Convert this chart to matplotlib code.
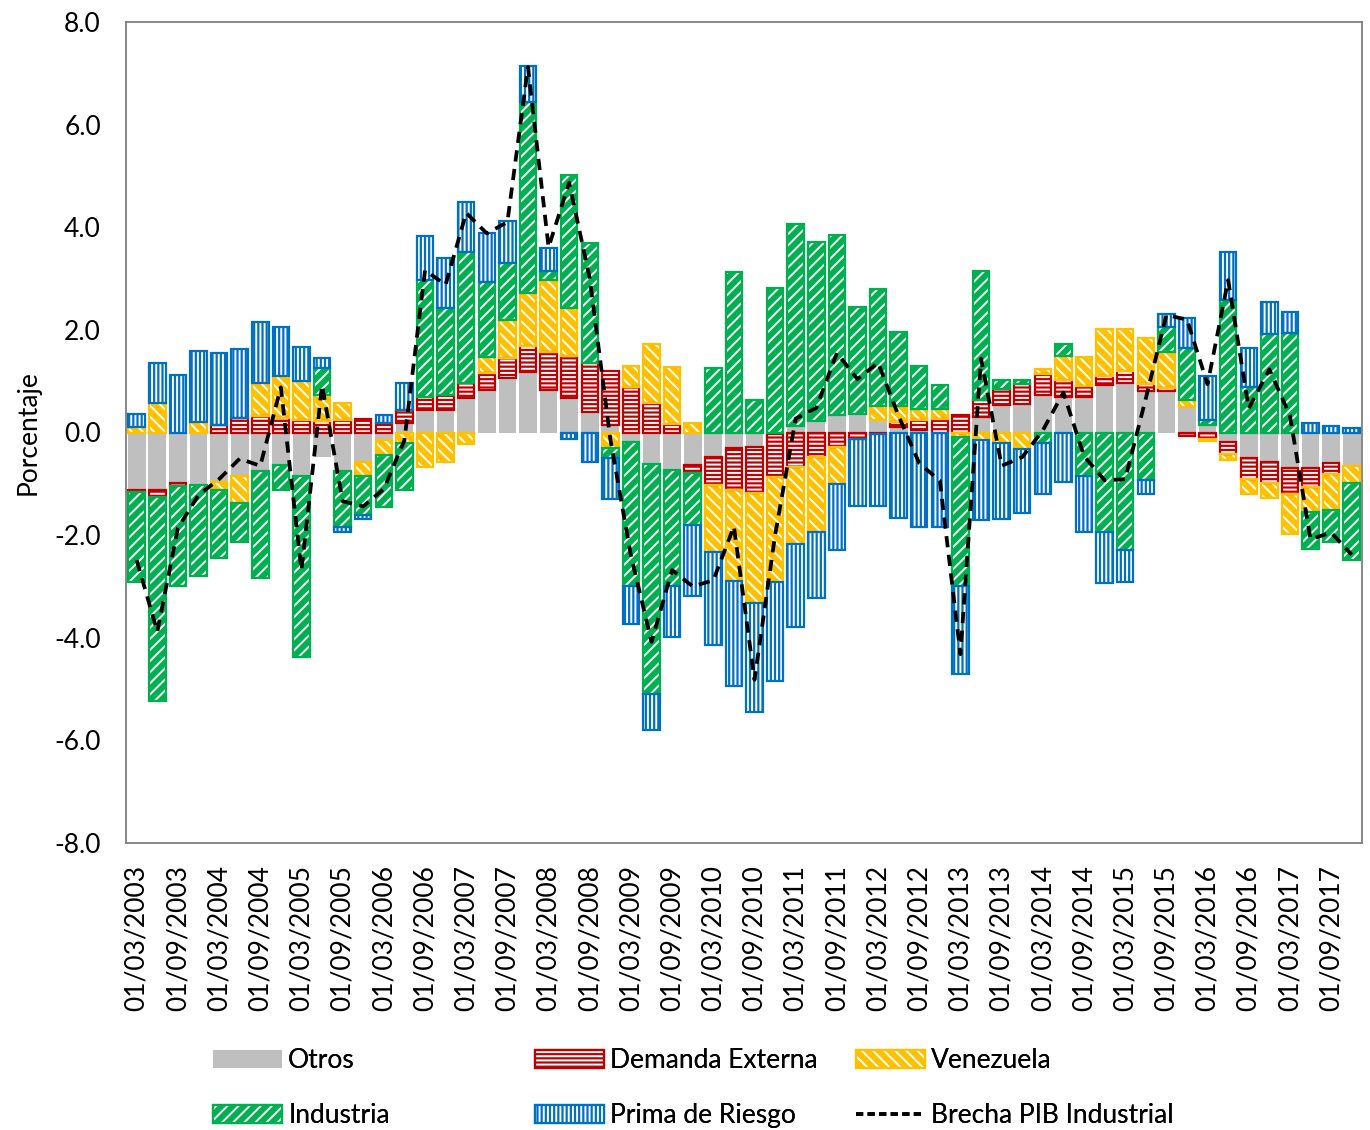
import numpy as np
import matplotlib
matplotlib.use("Agg")
import matplotlib.pyplot as plt
from matplotlib.patches import Patch
from matplotlib.lines import Line2D

plt.rcParams['font.family'] = ['Lato', 'DejaVu Sans']
plt.rcParams['axes.unicode_minus'] = False
plt.rcParams['hatch.linewidth'] = 1.4

# quarterly data 2003Q1 .. 2017Q4 (contributions, %)
otros = [-1.12, -1.12, -0.99, -1.02, -0.96, -0.85, -0.76, -0.63, -0.85, -0.47,
         -0.76, -0.57, -0.15, 0.18, 0.44, 0.44, 0.67, 0.83, 1.06, 1.17,
         0.83, 0.67, 0.39, 0.15, -0.18, -0.62, -0.73, -0.63, -0.48, -0.31,
         -0.28, -0.03, 0.13, 0.23, 0.34, 0.36, 0.25, 0.11, 0.05, 0.00,
         0.00, 0.31, 0.53, 0.55, 0.73, 0.70, 0.70, 0.92, 0.96, 0.81,
         0.81, 0.50, 0.14, -0.18, -0.50, -0.57, -0.70, -0.70, -0.60, -0.65]
demanda_externa = [-0.03, -0.13, -0.05, 0.00, 0.15, 0.28, 0.32, 0.29, 0.24, 0.22,
                   0.24, 0.26, 0.19, 0.26, 0.26, 0.29, 0.29, 0.32, 0.39, 0.52,
                   0.73, 0.82, 0.96, 1.04, 0.89, 0.58, 0.16, -0.16, -0.55, -0.81,
                   -0.89, -0.84, -0.67, -0.48, -0.29, -0.13, -0.02, 0.10, 0.20, 0.26,
                   0.34, 0.32, 0.31, 0.39, 0.41, 0.32, 0.21, 0.18, 0.23, 0.13,
                   0.06, -0.06, -0.12, -0.23, -0.41, -0.42, -0.49, -0.36, -0.21, 0.00]
venezuela = [0.11, 0.58, 0.00, 0.21, -0.16, -0.52, 0.65, 0.81, 0.76, 0.52,
             0.33, -0.28, -0.29, -0.21, -0.67, -0.58, -0.23, 0.33, 0.74, 1.02,
             1.41, 0.93, 0.00, -0.31, 0.40, 1.14, 1.12, 0.18, -1.29, -1.77,
             -2.15, -2.05, -1.51, -1.46, -0.71, 0.00, 0.27, 0.31, 0.21, 0.20,
             -0.08, -0.15, -0.21, -0.33, 0.09, 0.48, 0.57, 0.91, 0.82, 0.90,
             0.69, 0.13, -0.05, -0.12, -0.28, -0.28, -0.78, -0.49, -0.70, -0.34]
industria = [-1.76, -3.98, -1.96, -1.77, -1.33, -0.76, -2.07, -0.50, -3.53, 0.51,
             -1.08, -0.76, -1.01, -0.92, 2.27, 1.69, 2.55, 1.46, 1.12, 3.74,
             0.18, 2.60, 2.35, -0.19, -2.81, -4.48, -2.26, -1.01, 1.26, 3.12,
             0.64, 2.81, 3.93, 3.48, 3.51, 2.09, 2.27, 1.43, 0.84, 0.47,
             -2.91, 2.52, 0.18, 0.08, -0.21, 0.22, -0.85, -1.93, -2.29, -0.93,
             0.49, 1.01, 0.10, 2.59, 0.89, 1.91, 1.93, -0.73, -0.62, -1.50]
prima_riesgo = [0.26, 0.77, 1.12, 1.37, 1.39, 1.34, 1.18, 0.96, 0.67, 0.20,
                -0.09, -0.08, 0.15, 0.52, 0.85, 0.98, 0.99, 0.94, 0.81, 0.70,
                0.45, -0.13, -0.57, -0.80, -0.74, -0.69, -0.99, -1.38, -1.83, -2.05,
                -2.13, -1.92, -1.61, -1.29, -1.29, -1.30, -1.41, -1.66, -1.85, -1.85,
                -1.72, -1.56, -1.48, -1.23, -0.99, -0.96, -1.08, -1.01, -0.63, -0.26,
                0.26, 0.60, 0.86, 0.92, 0.75, 0.63, 0.41, 0.18, 0.13, 0.08]
brecha = [-2.49, -3.88, -1.86, -1.22, -0.91, -0.51, -0.65, 0.88, -2.68, 0.92,
          -1.34, -1.44, -1.10, -0.15, 3.16, 2.88, 4.28, 3.88, 4.10, 7.12,
          3.61, 4.87, 3.00, -0.13, -2.40, -4.08, -2.68, -3.00, -2.88, -1.83,
          -4.82, -2.00, 0.27, 0.48, 1.55, 1.04, 1.36, 0.32, -0.60, -0.94,
          -4.32, 1.44, -0.65, -0.48, 0.04, 0.78, -0.46, -0.93, -0.91, 0.66,
          2.29, 2.20, 0.94, 2.97, 0.47, 1.23, 0.33, -2.08, -1.95, -2.38]

years = range(2003, 2018)
fechas = [f"01/{m}/{y}" for y in years for m in ("03", "06", "09", "12")]

names = ['Otros', 'Demanda Externa', 'Venezuela', 'Industria', 'Prima de Riesgo']
colors = ['#BFBFBF', '#C00000', '#FFC000', '#00B050', '#0070C0']
hatches = [None, '----', '\\\\\\', '///', '||||']
series = [otros, demanda_externa, venezuela, industria, prima_riesgo]

fig = plt.figure(figsize=(13.7, 11.3), dpi=100)
ax = fig.add_axes([126 / 1370, 1 - 843 / 1130, (1362 - 126) / 1370, (843 - 22) / 1130])

x = np.arange(len(fechas))
width = 0.86
pos_base = np.zeros(len(x))
neg_base = np.zeros(len(x))
handles = {}
for name, vals, c, h in zip(names, series, colors, hatches):
    v = np.array(vals)
    m = v != 0
    bottom = np.where(v >= 0, pos_base, neg_base)
    if h is None:
        ax.bar(x[m], v[m], width, bottom=bottom[m], color=c, linewidth=0, zorder=2)
        handles[name] = Patch(facecolor=c, edgecolor='none')
    else:
        ax.bar(x[m], v[m], width, bottom=bottom[m], facecolor=c, edgecolor='white',
               hatch=h, linewidth=0, zorder=2)
        ax.bar(x[m], v[m], width * 0.93, bottom=bottom[m], facecolor='none',
               edgecolor=c, linewidth=1.6, zorder=3)
        handles[name] = (Patch(facecolor=c, edgecolor='white', hatch=h, linewidth=0),
                         Patch(facecolor='none', edgecolor=c, linewidth=1.6))
    pos_base += np.clip(v, 0, None)
    neg_base += np.clip(v, None, 0)

ax.plot(x, brecha, color='black', linewidth=2.7, linestyle=(0, (3, 2)), zorder=4)
handles['Brecha PIB Industrial'] = Line2D([], [], color='black', linewidth=2.6,
                                          linestyle=(0, (2, 1.2)))

ax.set_xlim(-0.52, len(x) - 0.5)
ax.set_ylim(-8, 8)
ax.set_yticks(np.arange(-8, 8.1, 2))
ax.set_yticklabels([f"{t:.1f}" for t in np.arange(-8, 8.1, 2)])
ax.set_xticks(x[::2])
ax.set_xticklabels(fechas[::2], rotation=90)
ax.tick_params(axis='y', length=0, pad=18, labelsize=19)
ax.tick_params(axis='x', length=0, pad=16, labelsize=19)
for s in ax.spines.values():
    s.set_color('#7F7F7F')
    s.set_linewidth(1.3)
ax.set_ylabel('Porcentaje', fontsize=19, labelpad=10)

# legend laid out in three fixed columns like the original
cols = [('Otros', 'Industria'), ('Demanda Externa', 'Prima de Riesgo'),
        ('Venezuela', 'Brecha PIB Industrial')]
col_x = [213, 535, 856]
for (a, b), cx in zip(cols, col_x):
    leg = fig.legend([handles[a], handles[b]], [a, b], loc='upper left',
                     bbox_to_anchor=(cx / 1370, 1 - 1048 / 1130), frameon=False,
                     fontsize=19, handlelength=2.6, handleheight=0.7,
                     handletextpad=0.25, labelspacing=1.15, borderpad=0,
                     borderaxespad=0)
    fig.add_artist(leg)

fig.savefig('out.png', dpi=100)
